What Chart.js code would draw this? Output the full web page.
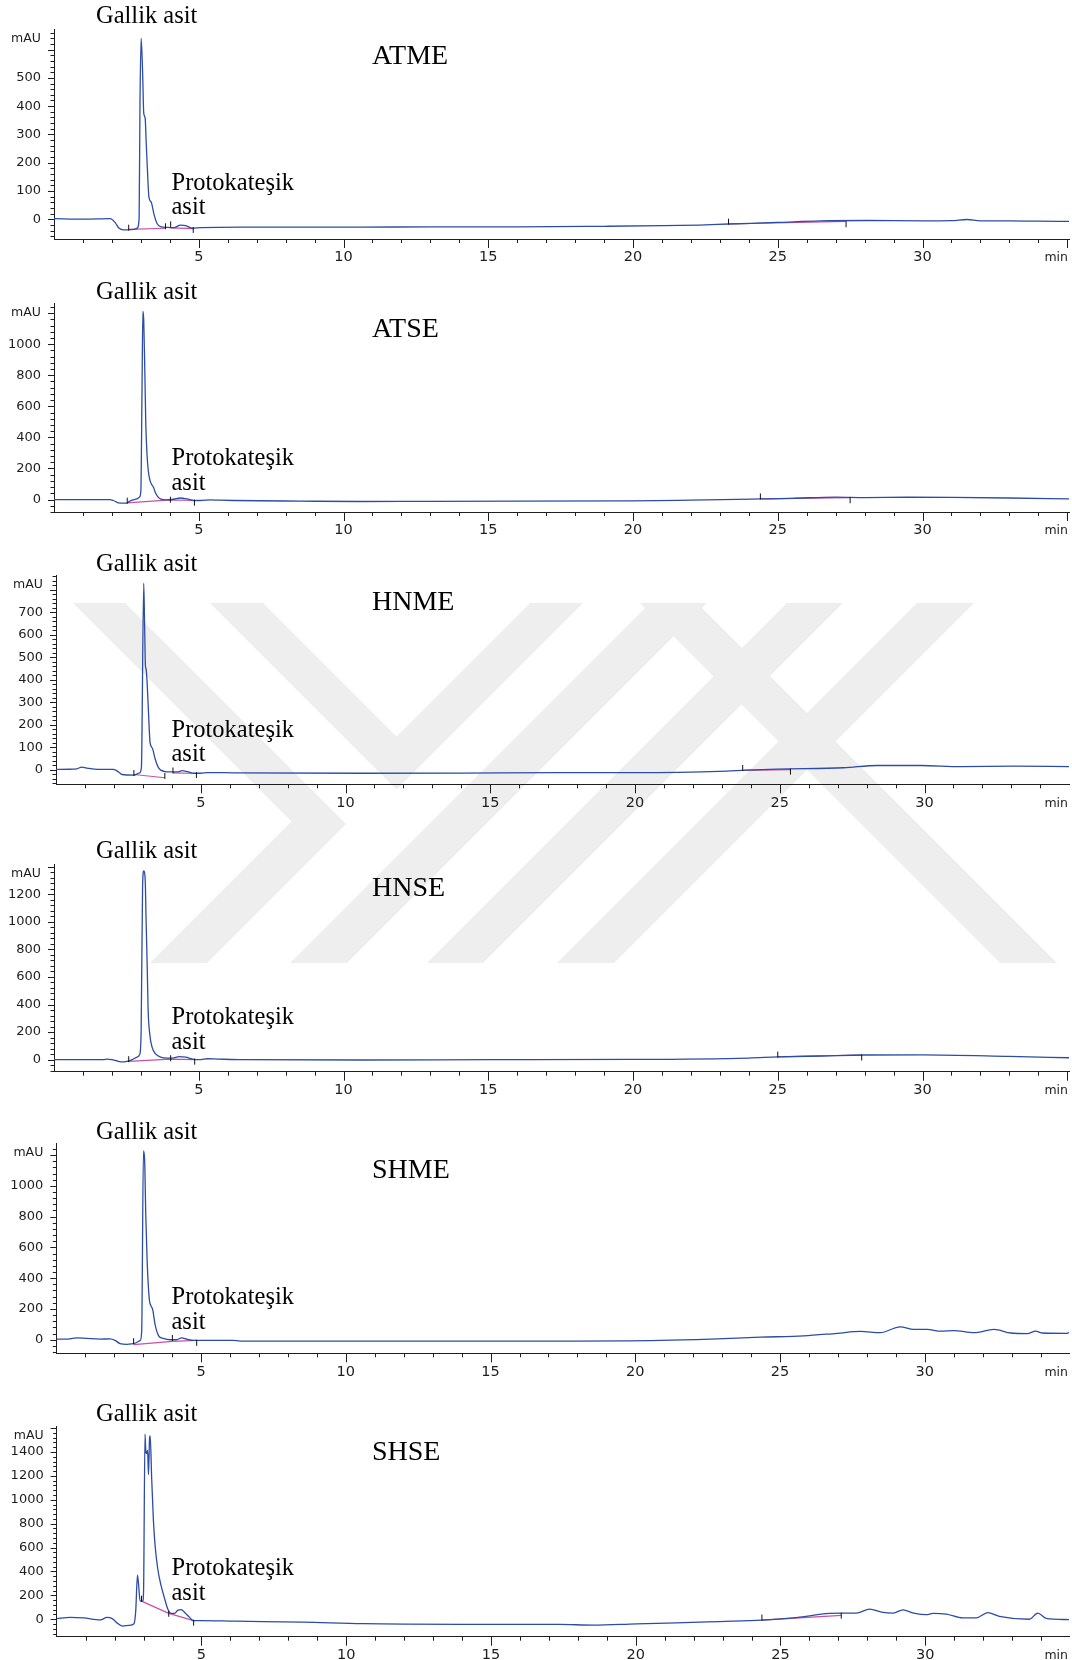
<!DOCTYPE html>
<html><head><meta charset="utf-8">
<script src="https://cdn.jsdelivr.net/npm/chart.js@4.4.1/dist/chart.umd.min.js"></script>
<style>
html,body{margin:0;padding:0;background:#fff;}
#wrap{position:relative;width:1072px;height:1660px;overflow:hidden;background:#fff;}
#wm{position:absolute;left:0;top:0;z-index:0;}
.lbl{position:absolute;font-family:"Liberation Serif","Times New Roman",serif;color:#000;white-space:nowrap;z-index:2;}
</style></head>
<body><div id="wrap"><svg id="wm" width="1072" height="1660" xmlns="http://www.w3.org/2000/svg"></svg></div>
<script>
// ---------------- DATA (time in min, signal in mAU) ----------------
const sampleNames = ['ATME', 'ATSE', 'HNME', 'HNSE', 'SHME', 'SHSE'];
const peakGallic = 'Gallik asit';
const peakProto1 = 'Protokateşik';
const peakProto2 = 'asit';
const xTickLabels = [5, 10, 15, 20, 25, 30];
const xUnit = 'min';
const yUnit = 'mAU';

const atmeYLabels = [0, 100, 200, 300, 400, 500];
const atseYLabels = [0, 200, 400, 600, 800, 1000];
const hnmeYLabels = [0, 100, 200, 300, 400, 500, 600, 700];
const hnseYLabels = [0, 200, 400, 600, 800, 1000, 1200];
const shmeYLabels = [0, 200, 400, 600, 800, 1000];
const shseYLabels = [0, 200, 400, 600, 800, 1000, 1200, 1400];

const atmeTrace = [[0,2],[1.02,0],[1.94,2],[2.12,-13],[2.23,-30],[2.41,-38],[2.75,-36],[2.87,-32],[2.94,2],[2.97,409],[3.01,640],[3.06,523],[3.10,375],[3.15,357],[3.18,283],[3.23,168],[3.28,77],[3.36,60],[3.45,19],[3.56,-15],[3.68,-26],[3.91,-29],[4.14,-30],[4.37,-21],[4.55,-23],[4.78,-32],[5.07,-30],[6.5,-28],[8.0,-28],[10.6,-28],[13.0,-27],[16.0,-27],[19.0,-25],[21.0,-23],[22.3,-20.6],[23.3,-17],[24.97,-11.5],[26.47,-5.7],[28.08,-4.6],[30.04,-5.7],[31.0,-5],[31.54,-1],[32.0,-6],[33.0,-6],[34.0,-7],[35.06,-7.5]];
const atmeBase = [[2.58,-36],[3.85,-32],null,[4.03,-31],[4.81,-33],null,[23.3,-17],[27.36,-8]];
const atmeMarks = [[2.58,-30],[3.85,-25],[4.03,-18],[4.81,-38],[23.3,-8.6],[27.36,-17.9]];

const atseTrace = [[0,0],[1.0,0],[1.93,0],[2.05,-6],[2.22,-21],[2.51,-23],[2.6,-12],[2.7,-4],[2.86,4],[2.95,15],[3.0,56],[3.04,700],[3.07,1212],[3.10,1150],[3.14,800],[3.17,494],[3.21,300],[3.26,181],[3.32,120],[3.44,77],[3.5,45],[3.67,4],[3.9,-2],[4.13,2],[4.36,10],[4.6,4],[4.83,-6],[5.06,-6],[5.4,-2],[5.7,-4],[6.2,-6],[8.5,-10],[10.6,-12.5],[13,-11],[16,-10],[20,-9],[22,-4],[24.4,4],[25.5,8],[27.0,16],[28.0,13],[29.5,15],[31,14],[33,10],[35.06,4]];
const atseBase = [[2.53,-21],[4.02,-2],null,[4.02,-2],[4.85,-6],null,[24.4,4],[27.5,12]];
const atseMarks = [[2.53,-7],[4.02,-1],[4.85,-20],[24.4,20],[27.5,-4]];

const hnmeTrace = [[0,1.4],[0.5,2],[0.72,4],[0.89,11.5],[1.06,7],[1.53,1.4],[1.99,1.4],[2.16,-10],[2.28,-21.5],[2.69,-24],[2.89,-14],[2.95,10],[3.03,829],[3.06,650],[3.09,460],[3.11,450],[3.15,380],[3.2,240],[3.25,120],[3.33,95],[3.42,50],[3.55,7],[3.73,-7],[3.96,-10],[4.19,-10],[4.36,-4.3],[4.54,-8.6],[4.77,-15.8],[5.0,-15.8],[5.23,-13],[6.16,-14],[10.56,-15.8],[14,-15],[17.42,-13],[20.07,-13],[23.18,-6],[23.72,-3],[24.91,2.6],[27.2,8.6],[28.37,18.5],[29.87,18.5],[31.25,14],[33.1,15.8],[34.99,14]];
const hnmeBase = [[2.69,-21.5],[3.76,-36],null,[4.04,-14],[4.85,-17],null,[23.72,-3],[25.37,0]];
const hnmeMarks = [[2.69,-15],[3.76,-28],[4.04,-3.6],[4.85,-24],[23.72,7.7],[25.37,-8.6]];

const hnseTrace = [[0,0],[1.71,0],[1.83,4.7],[2.0,0],[2.18,-9.4],[2.35,-16],[2.52,-11.7],[2.7,0],[2.87,18.7],[2.96,37],[3.01,206],[3.06,1258],[3.10,1368],[3.15,1305],[3.18,1024],[3.22,674],[3.25,370],[3.31,182],[3.39,89],[3.51,42],[3.68,18.7],[3.91,11.7],[4.09,11.7],[4.32,23],[4.55,18.7],[4.78,4.7],[5.07,0],[5.3,7],[5.65,4.7],[6.57,0],[10.6,-2],[15,0],[20,2],[24,12],[25,20],[26.5,27],[28,34],[30,35],[33,24],[35.06,14]];
const hnseBase = [[2.58,-11.7],[4.03,4.7],null,[4.03,4.7],[4.86,0],null,[25.0,20],[27.9,34]];
const hnseMarks = [[2.58,3.5],[4.03,10.5],[4.86,-14],[25.0,37],[27.9,16]];

const shmeTrace = [[0,4],[0.4,4],[0.71,12.6],[1.06,8.4],[1.52,4],[1.86,6],[2.03,-4],[2.2,-25],[2.44,-29.5],[2.67,-25],[2.9,-4],[2.95,59],[3.01,1227],[3.05,1175],[3.09,817],[3.14,501],[3.21,269],[3.28,217],[3.33,196],[3.41,101],[3.53,27],[3.70,8.4],[3.93,0],[4.15,0],[4.33,12.6],[4.51,4],[4.74,-4],[4.97,-4],[6.1,-4],[6.35,-8.4],[10.5,-8.4],[14,-9],[17.41,-8.8],[20.87,-4.4],[22.6,4],[24.32,16.6],[25.82,25],[26.97,42],[27.78,54],[28.46,46],[29.15,84],[29.62,67],[30.08,67],[30.55,56],[31.0,59],[31.7,46],[32.39,67],[32.97,44],[33.54,40],[33.83,56],[34.06,44],[34.92,42],[34.98,48]];
const shmeBase = [[2.67,-31.6],[4.01,-10.5],null,[4.01,-10.5],[4.85,-4]];
const shmeMarks = [[2.67,-9.5],[4.01,11.6],[4.85,-20]];

const shseTrace = [[0,5.4],[0.47,16],[0.93,11],[1.51,-5.4],[1.74,16],[1.92,5.4],[2.09,-32.5],[2.27,-57],[2.5,-51.5],[2.67,-38],[2.73,70],[2.79,369],[2.83,287],[2.88,152],[2.97,152],[3.0,233],[3.05,1549],[3.08,1400],[3.10,1386],[3.14,1413],[3.17,1210],[3.21,1522],[3.23,1535],[3.28,1183],[3.34,830],[3.40,613],[3.49,423],[3.6,287],[3.72,179],[3.84,84],[3.95,49],[4.07,49],[4.19,76],[4.3,81],[4.42,57],[4.59,16],[4.71,-11],[5.0,-11],[6.16,-16],[8.49,-24],[10.58,-37],[14,-42],[17.38,-43],[18.53,-49],[20.03,-38],[21.4,-30],[22.9,-19],[24.36,-8],[25.43,11],[26.7,49],[27.1,52],[27.62,52],[28.08,84],[28.54,57],[28.9,52],[29.23,79],[29.6,52],[30.04,38],[30.27,49],[30.73,43],[31.3,11],[31.76,11],[32.16,55],[32.56,25],[33.6,0],[33.89,52],[34.18,8],[34.97,-3]];
const shseBase = [[2.93,152],[3.87,49],null,[3.87,49],[4.73,-11],null,[24.36,-8],[27.1,33]];
const shseMarks = [[2.93,172],[3.87,46],[4.73,-28.5],[24.36,14],[27.1,30]];

// ---------------- LAYOUT (pixels / styles) ----------------
const panelLayout = [
  {left:54,   top:23.7,   bottom:239,    yMin:-70,  yMax:670,  major:100, gal:23.3,   pro:190.7,  asit:215,    name:64.3},
  {left:54,   top:297.6,  bottom:512,    yMin:-80,  yMax:1260, major:200, gal:299.3,  pro:465.7,  asit:490.7,  name:337.3},
  {left:56,   top:569,    bottom:784.3,  yMin:-65,  yMax:862,  major:100, gal:571.7,  pro:737.3,  asit:761.7,  name:610.5},
  {left:54,   top:858,    bottom:1071.7, yMin:-87,  yMax:1413, major:200, gal:858.3,  pro:1025,   asit:1050,   name:896},
  {left:56.3, top:1137.7, bottom:1353.3, yMin:-88,  yMax:1273, major:200, gal:1139.3, pro:1304.3, asit:1329.3, name:1178.6},
  {left:56.7, top:1420.7, bottom:1636.7, yMin:-146, yMax:1611, major:200, gal:1421.7, pro:1575.7, asit:1601,   name:1460.1}
];
const watermark = [
  [[73,603],[125,603],[346,824],[207,963],[150,963],[291.5,821.5]],
  [[210,603],[263,603],[396.5,736.5],[530,603],[583,603],[396.5,789.5]],
  [[290,963],[347,963],[707,603],[650,603]],
  [[427,963],[483,963],[843,603],[787,603]],
  [[557,963],[614,963],[974,603],[917,603]],
  [[640,603],[697,603],[1057,963],[1000,963]]
];
const WATERMARK_COLOR = '#eeeeee';
const TRACE_COLOR = '#2c4ca6';
const BASE_COLOR = '#c652a0';
const AXIS_COLOR = '#1e1e1e';
const PX_PER_MIN = 28.95;
const RIGHT_EDGE = 1069;
const CANVAS_W = 1100;

// ---------------- BUILD ----------------
const wrap = document.getElementById('wrap');
const svg = document.getElementById('wm');
watermark.forEach(poly => {
  const el = document.createElementNS('http://www.w3.org/2000/svg', 'polygon');
  el.setAttribute('points', poly.map(p => p.join(',')).join(' '));
  el.setAttribute('fill', WATERMARK_COLOR);
  svg.appendChild(el);
});

const panels = [
  {trace: atmeTrace, base: atmeBase, marks: atmeMarks, yLabels: atmeYLabels},
  {trace: atseTrace, base: atseBase, marks: atseMarks, yLabels: atseYLabels},
  {trace: hnmeTrace, base: hnmeBase, marks: hnmeMarks, yLabels: hnmeYLabels},
  {trace: hnseTrace, base: hnseBase, marks: hnseMarks, yLabels: hnseYLabels},
  {trace: shmeTrace, base: shmeBase, marks: shmeMarks, yLabels: shmeYLabels},
  {trace: shseTrace, base: shseBase, marks: shseMarks, yLabels: shseYLabels}
];

function toPts(arr) {
  return arr.map(p => p ? {x: p[0], y: p[1]} : {x: null, y: null});
}
function hasLabel(list, v) {
  return list.some(l => Math.abs(l - v) < 1e-6);
}

const axisTicks = {
  id: 'axisTicks',
  afterDraw(chart, args, opts) {
    const {ctx, chartArea: ca} = chart;
    const x = chart.scales.x, y = chart.scales.y;
    ctx.save();
    ctx.strokeStyle = AXIS_COLOR;
    ctx.lineWidth = 1;
    ctx.beginPath();
    for (let t = 1; t <= Math.floor(x.max + 1e-6); t++) {
      const px = Math.round(x.getPixelForValue(t)) + 0.5;
      const len = t % 5 === 0 ? 9 : 4;
      ctx.moveTo(px, ca.bottom);
      ctx.lineTo(px, ca.bottom + len);
    }
    const minor = opts.major / 5;
    for (let k = Math.ceil(y.min / minor); k * minor <= y.max + 1e-6; k++) {
      const v = k * minor;
      const py = Math.round(y.getPixelForValue(v)) + 0.5;
      const len = (k % 5 === 0) ? 6 : 3.5;
      ctx.moveTo(ca.left, py);
      ctx.lineTo(ca.left - len, py);
    }
    ctx.stroke();
    ctx.fillStyle = AXIS_COLOR;
    ctx.textAlign = 'right';
    ctx.textBaseline = 'middle';
    ctx.font = '12.5px "DejaVu Sans"';
    ctx.fillText(yUnit, ca.left - 13, ca.top + 8.5);
    ctx.font = '12.5px "DejaVu Sans"';
    ctx.fillText(xUnit, ca.right - 1, ca.bottom + 19);
    ctx.restore();
  }
};

function addText(txt, x, base, fs) {
  const d = document.createElement('div');
  d.className = 'lbl';
  d.textContent = txt;
  d.style.fontSize = fs + 'px';
  d.style.lineHeight = fs + 'px';
  d.style.left = x + 'px';
  d.style.top = (base - 0.8375 * fs) + 'px';
  wrap.appendChild(d);
}

panels.forEach((p, i) => {
  const L = panelLayout[i];
  const padTop = 14, xAxisH = 40;
  const cTop = Math.floor(L.top) - padTop;
  const areaTop = L.top - cTop;
  const areaBottom = L.bottom - cTop;
  const h = Math.ceil(areaBottom + xAxisH);
  const canvas = document.createElement('canvas');
  canvas.width = CANVAS_W; canvas.height = h;
  canvas.style.cssText = 'position:absolute;left:0;top:' + cTop + 'px;width:' + CANVAS_W + 'px;height:' + h + 'px;z-index:1;';
  wrap.appendChild(canvas);
  const xMax = (RIGHT_EDGE - L.left) / PX_PER_MIN;

  new Chart(canvas, {
    type: 'line',
    data: {
      datasets: [
        {data: toPts(p.marks), showLine: false, pointStyle: 'line', pointRotation: 90, pointRadius: 3,
         pointBorderColor: '#111', pointBorderWidth: 1, pointHoverRadius: 0, clip: false},
        {data: toPts(p.trace), borderColor: TRACE_COLOR, borderWidth: 1.3, pointRadius: 0,
         cubicInterpolationMode: 'monotone', fill: false},
        {data: toPts(p.base), borderColor: BASE_COLOR, borderWidth: 1.2, pointRadius: 0,
         spanGaps: false, tension: 0, fill: false}
      ]
    },
    options: {
      responsive: false, animation: false, devicePixelRatio: 1,
      events: [],
      layout: {padding: {left: 0, right: CANVAS_W - RIGHT_EDGE, top: areaTop, bottom: h - xAxisH - areaBottom}},
      plugins: {legend: {display: false}, tooltip: {enabled: false}, axisTicks: {major: L.major}},
      scales: {
        x: {
          type: 'linear', position: 'bottom', min: 0, max: xMax,
          afterBuildTicks: s => { s.ticks = xTickLabels.map(v => ({value: v})); },
          afterFit: s => { s.height = xAxisH; },
          grid: {display: true, drawOnChartArea: false, drawTicks: false},
          border: {display: true, color: AXIS_COLOR, width: 1},
          ticks: {autoSkip: false, maxRotation: 0, padding: 10, color: AXIS_COLOR,
                  font: {family: 'DejaVu Sans', size: 14.5},
                  callback: v => hasLabel(xTickLabels, v) ? String(v) : ''}
        },
        y: {
          type: 'linear', position: 'left', min: L.yMin, max: L.yMax,
          afterBuildTicks: s => {
            const arr = [];
            for (let k = Math.ceil(L.yMin / L.major); k * L.major <= L.yMax; k++) arr.push({value: k * L.major});
            s.ticks = arr;
          },
          afterFit: s => { s.width = L.left; },
          grid: {display: true, drawOnChartArea: false, drawTicks: false},
          border: {display: true, color: AXIS_COLOR, width: 1},
          ticks: {autoSkip: false, padding: 13, color: AXIS_COLOR,
                  font: {family: 'DejaVu Sans', size: 13},
                  callback: v => hasLabel(p.yLabels, v) ? String(v) : ''}
        }
      }
    },
    plugins: [axisTicks]
  });

  addText(peakGallic, 96, L.gal, 24.5);
  addText(peakProto1, 171.5, L.pro, 24.5);
  addText(peakProto2, 171.5, L.asit, 24.5);
  addText(sampleNames[i], 372, L.name, 28);
});
</script>
</body></html>
